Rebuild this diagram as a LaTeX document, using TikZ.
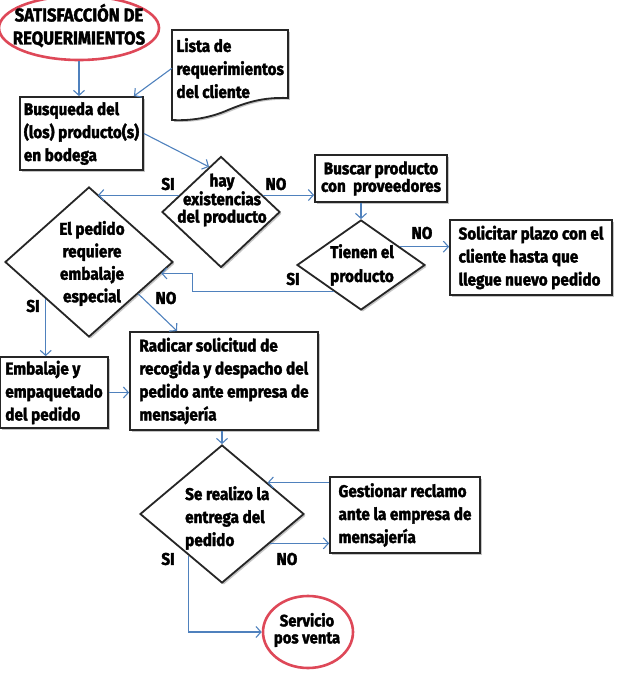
\documentclass[tikz,border=0pt]{standalone}
\usepackage{fontspec}
\setmainfont{Fira Sans}[BoldFeatures={FakeStretch=0.9,FakeBold=2}]
\usetikzlibrary{shapes.geometric,arrows.meta,shadows,calc}
\definecolor{arr}{RGB}{79,129,189}
\definecolor{ovl}{RGB}{222,72,88}
\begin{document}
\begin{tikzpicture}[x=1pt,y=-1pt,
  font=\bfseries\fontsize{17}{23}\selectfont,
  shad/.style={drop shadow={shadow xshift=1.8pt,shadow yshift=-1.8pt,fill=black!45}},
  box/.style={rectangle, draw=black!85, line width=1.8pt, fill=white, inner sep=3pt, align=left, shad},
  dia/.style={diamond, draw=black!85, line width=1.8pt, fill=white, inner sep=0pt, shad},
  oval/.style={ellipse, draw=ovl, line width=2.6pt, fill=white, inner sep=0pt},
  lab/.style={inner sep=0pt},
  conn/.style={draw=arr, line width=1.1pt, -{Straight Barb[length=5pt,width=11pt]}},
]
\useasboundingbox (0,0) rectangle (618,684);

% start oval
\node[oval, minimum width=160pt, minimum height=64pt] (ovl) at (79,28) {};
\node[lab, align=center, font=\bfseries\fontsize{18.5}{23}\selectfont] (ovt) at (79,25.5) {SATISFACCIÓN DE\\REQUERIMIENTOS};

% document
\draw[draw=black!85, line width=1.8pt, fill=white, shad]
  (172,30) -- (288,30) -- (288,98) .. controls (262,97) and (245,103) .. (228,110)
  .. controls (210,118) and (190,121) .. (172,120) -- cycle;
\node[lab, inner sep=4pt, minimum width=116pt, minimum height=76pt, align=left, anchor=north west] (lista) at (172,30) {Lista de\\requerimientos\\del cliente};

% boxes
\node[box, minimum width=123pt, minimum height=73pt] (busq) at (81.5,133.5) {Busqueda del\\(los) producto(s)\\en bodega};
\node[box, minimum width=132pt, minimum height=47pt, align=center, font=\bfseries\fontsize{17}{17.5}\selectfont] (busc) at (381,178.5) {Buscar producto\\con~ proveedores};
\node[box, minimum width=162pt, minimum height=75pt] (sol) at (531,257.5) {Solicitar plazo con el\\cliente hasta que\\llegue nuevo pedido};
\node[box, minimum width=108pt, minimum height=71pt] (emb) at (54,392.5) {Embalaje y\\empaquetado\\del pedido};
\node[box, minimum width=188pt, minimum height=98pt] (rad) at (224,381) {Radicar solicitud de\\recogida y despacho del\\pedido ante empresa de\\mensajería};
\node[box, minimum width=150pt, minimum height=76pt] (gest) at (405,515) {Gestionar reclamo\\ante la empresa de\\mensajería};

% diamonds
\node[dia, minimum width=118pt, minimum height=111pt] (hay) at (221,212) {};
\node[lab, align=center, font=\bfseries\fontsize{17}{17.5}\selectfont] (hayt) at (222,200) {hay\\existencias\\del producto};
\node[dia, minimum width=168pt, minimum height=150pt] (ped) at (89,262) {};
\node[lab, align=center, font=\bfseries\fontsize{17}{22.5}\selectfont] (pedt) at (92,263.5) {El pedido\\requiere\\embalaje\\especial};
\node[dia, minimum width=128pt, minimum height=90pt] (tien) at (361,265) {};
\node[lab, align=center, font=\bfseries\fontsize{17}{24}\selectfont] (tient) at (362,265) {Tienen el\\producto};
\node[dia, minimum width=164pt, minimum height=138pt] (se) at (222,514) {};
\node[lab, align=left, anchor=west] (set) at (185,518) {Se realizo la\\entrega del\\pedido};

% end oval
\node[oval, minimum width=90pt, minimum height=72pt] (serv) at (308,632) {};
\node[lab, align=center, font=\bfseries\fontsize{16.5}{17}\selectfont] (servt) at (307,630) {Servicio\\pos venta};

% labels
\node[lab] (l1) at (168,184) {SI};
\node[lab] (l2) at (276,184) {NO};
\node[lab] (l3) at (422,233) {NO};
\node[lab] (l4) at (293,279) {SI};
\node[lab] (l5) at (33,306) {SI};
\node[lab] (l6) at (166,298) {NO};
\node[lab] (l7) at (168,559) {SI};
\node[lab] (l8) at (287,559) {NO};

% connector points
\coordinate (hA) at ($(hay.west)!0.3!(hay.north)$);
\coordinate (hB) at ($(hay.east)!0.3!(hay.north)$);
\coordinate (pN) at ($(ped.north)!0.107!(ped.east)$);
\coordinate (tA) at ($(tien.east)!0.4!(tien.north)$);
\coordinate (tB) at ($(tien.west)!0.58!(tien.south)$);
\coordinate (pA) at ($(ped.east)!0.15!(ped.south)$);
\coordinate (pB) at ($(ped.west)!0.49!(ped.south)$);
\coordinate (pC) at ($(ped.east)!0.42!(ped.south)$);
\coordinate (sA) at ($(se.east)!0.45!(se.north)$);
\coordinate (sB) at ($(se.east)!0.42!(se.south)$);
\coordinate (sC) at ($(se.west)!0.6!(se.south)$);

% connectors
\draw[conn] (ovl.south) -- (ovl.south |- busq.north);
\draw[conn] (lista.west) -- ($(busq.north east)+(-10,0)$);
\draw[conn] (busq.east) -- ($(hay.north)!0.2!(hay.west)$);
\draw[conn] (hA) -- (hA -| pN);
\draw[conn] (hB) -- (hB -| busc.west);
\draw[conn] (busc.south -| tien.north) -- (tien.north);
\draw[conn] (tA) -- (tA -| sol.west);
\draw[conn] (tB) -| ($(pA)+(31,0)$) -- (pA);
\draw[conn] (pB) -- (pB |- emb.north);
\draw[conn] (pC) -- ($(rad.north west)+(48,0)$);
\draw[conn] (emb.east) -- (emb.east -| rad.west);
\draw[conn] (rad.south -| se.north) -- (se.north);
\draw[conn] (sA -| gest.west) -- (sA);
\draw[conn] (sB) -- (sB -| gest.west);
\draw[conn] (sC) |- (serv.west);
\end{tikzpicture}
\end{document}
